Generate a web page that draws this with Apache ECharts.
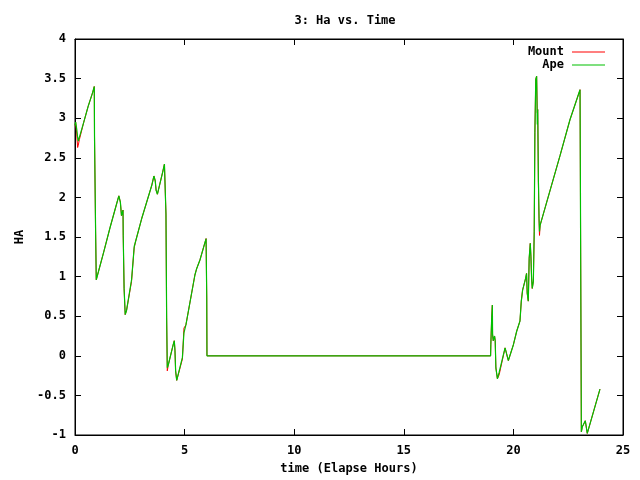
<!DOCTYPE html>
<html>
<head>
<meta charset="utf-8">
<script src="https://cdn.jsdelivr.net/npm/echarts@6/dist/echarts.min.js"></script>
<style>
  html, body { margin: 0; padding: 0; background: #fff; }
  #chart { width: 640px; height: 480px; }
</style>
</head>
<body>
<div id="chart"></div>
<script>
// elapsed time, hours
var hours = [
  0.00, 0.03, 0.08, 0.12, 0.15, 0.20, 0.40, 0.60, 0.80, 0.88,
  0.89, 0.94, 0.97, 1.00, 1.30, 1.60, 1.90, 2.00, 2.07, 2.12,
  2.19, 2.20, 2.24, 2.29, 2.35, 2.58, 2.66, 2.70, 2.76, 3.04,
  3.50, 3.60, 3.66, 3.70, 3.76, 4.00, 4.08, 4.14, 4.15, 4.18,
  4.21, 4.26, 4.48, 4.53, 4.56, 4.59, 4.64, 4.90, 4.97, 5.06,
  5.47, 5.55, 5.70, 5.98, 6.01, 6.02, 18.96, 18.97, 19.01, 19.04,
  19.05, 19.08, 19.14, 19.17, 19.20, 19.27, 19.35, 19.62, 19.68, 19.77,
  20.00, 20.15, 20.30, 20.36, 20.42, 20.56, 20.60, 20.63, 20.68, 20.72,
  20.77, 20.80, 20.83, 20.86, 20.91, 20.95, 20.98, 21.02, 21.06, 21.09,
  21.11, 21.14, 21.15, 21.17, 21.19, 21.22, 21.52, 22.13, 22.58, 23.04,
  23.07, 23.10, 23.14, 23.28, 23.37, 23.95
];
// HA from the mount
var mount = [
  2.91, 2.95, 2.80, 2.63, 2.66, 2.73, 2.95, 3.15, 3.32, 3.40,
  2.78, 1.57, 0.96, 0.98, 1.30, 1.62, 1.92, 2.02, 1.94, 1.77,
  1.84, 1.52, 0.85, 0.52, 0.57, 0.94, 1.23, 1.36, 1.44, 1.73,
  2.15, 2.27, 2.21, 2.09, 2.04, 2.32, 2.42, 2.44, 1.79, 0.48,
  -0.19, -0.11, 0.14, 0.19, 0.07, -0.19, -0.31, -0.04, 0.35, 0.39,
  1.02, 1.10, 1.21, 1.48, 0.73, 0.00, 0.00, 0.14, 0.48, 0.64,
  0.27, 0.19, 0.25, 0.19, -0.15, -0.29, -0.24, 0.10, 0.11, -0.06,
  0.14, 0.31, 0.44, 0.69, 0.83, 0.98, 1.04, 0.79, 0.69, 1.23,
  1.42, 1.25, 0.98, 0.85, 0.94, 1.57, 2.82, 3.49, 3.53, 3.07,
  3.11, 2.21, 1.99, 1.73, 1.52, 1.65, 1.94, 2.53, 2.98, 3.36,
  1.21, -0.96, -0.90, -0.82, -0.98, -0.42
];
// HA computed by Ape
var ape = [
  2.91, 2.95, 2.86, 2.76, 2.71, 2.73, 2.95, 3.15, 3.32, 3.40,
  2.78, 1.57, 0.96, 0.98, 1.30, 1.62, 1.92, 2.02, 1.94, 1.77,
  1.84, 1.52, 0.85, 0.52, 0.57, 0.96, 1.23, 1.38, 1.44, 1.73,
  2.15, 2.27, 2.21, 2.09, 2.04, 2.32, 2.42, 2.44, 1.79, 0.50,
  -0.15, -0.11, 0.14, 0.19, 0.07, -0.19, -0.31, -0.02, 0.29, 0.39,
  1.02, 1.10, 1.21, 1.48, 0.73, 0.00, 0.00, 0.14, 0.48, 0.64,
  0.27, 0.19, 0.25, 0.19, -0.15, -0.29, -0.21, 0.10, 0.11, -0.06,
  0.14, 0.31, 0.44, 0.69, 0.83, 0.98, 1.04, 0.79, 0.69, 1.23,
  1.42, 1.25, 0.98, 0.85, 0.94, 1.57, 2.82, 3.49, 3.53, 2.92,
  3.11, 2.21, 2.10, 1.73, 1.57, 1.65, 1.94, 2.53, 2.98, 3.36,
  1.21, -0.96, -0.90, -0.82, -0.98, -0.42
];

var FONT = "DejaVu Sans Mono";

function pairs(ys) {
  return hours.map(function (h, i) { return [h, ys[i]]; });
}

var chart = echarts.init(document.getElementById("chart"));

var tickLbl = { color: "#000", fontFamily: FONT, fontSize: 12, fontWeight: "bold" };
var lineBlack = { onZero: false, lineStyle: { color: "#000" } };
var tickIn = { inside: true, length: 6, lineStyle: { color: "#000" } };

chart.setOption({
  animation: false,
  backgroundColor: "#fff",
  title: {
    text: "3: Ha vs. Time",
    left: 340,
    textAlign: "center",
    top: 10,
    textStyle: { fontFamily: FONT, fontSize: 12, fontWeight: "bold", color: "#000" }
  },
  legend: [
    {
      data: ["Mount"], right: 30, top: 41, align: "right",
      icon: "rect", itemWidth: 33, itemHeight: 1, itemGap: 0,
      textStyle: { fontFamily: FONT, fontSize: 12, fontWeight: "bold", color: "#000", padding: [0, 3, 0, 0] }
    },
    {
      data: ["Ape"], right: 30, top: 54, align: "right",
      icon: "rect", itemWidth: 33, itemHeight: 1, itemGap: 0,
      textStyle: { fontFamily: FONT, fontSize: 12, fontWeight: "bold", color: "#000", padding: [0, 3, 0, 0] }
    }
  ],
  grid: {
    left: 75, right: 17, top: 39, bottom: 42,
    show: true, borderColor: "#000", borderWidth: 1
  },
  xAxis: [
    {
      type: "value", min: 0, max: 25, interval: 5,
      name: "time (Elapse Hours)", nameLocation: "middle", nameGap: 28,
      nameTextStyle: tickLbl,
      axisLine: lineBlack, axisTick: tickIn,
      axisLabel: Object.assign({ margin: 10 }, tickLbl),
      splitLine: { show: false }
    },
    {
      type: "value", min: 0, max: 25, interval: 5, position: "top",
      axisLine: lineBlack, axisTick: tickIn,
      axisLabel: { show: false },
      splitLine: { show: false }
    }
  ],
  yAxis: [
    {
      type: "value", min: -1, max: 4, interval: 0.5,
      name: "HA", nameLocation: "middle", nameGap: 45, nameRotate: 90,
      nameTextStyle: tickLbl,
      axisLine: lineBlack, axisTick: tickIn,
      axisLabel: Object.assign({ margin: 9 }, tickLbl),
      splitLine: { show: false }
    },
    {
      type: "value", min: -1, max: 4, interval: 0.5, position: "right",
      axisLine: lineBlack, axisTick: tickIn,
      axisLabel: { show: false },
      splitLine: { show: false }
    }
  ],
  series: [
    {
      name: "Mount", type: "line", data: pairs(mount),
      showSymbol: false, symbol: "none",
      color: "#ff0000", lineStyle: { color: "#ff0000", width: 1 }
    },
    {
      name: "Ape", type: "line", data: pairs(ape),
      showSymbol: false, symbol: "none",
      color: "#00c000", lineStyle: { color: "#00c000", width: 1.2 }
    }
  ]
});
</script>
</body>
</html>
